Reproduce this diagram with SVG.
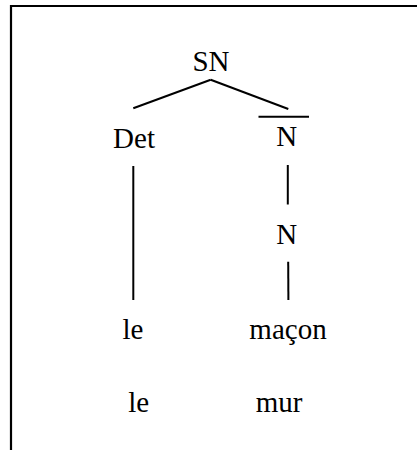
<svg xmlns="http://www.w3.org/2000/svg" width="417" height="450" viewBox="0 0 417 450">
  <style>
    .lbl { font-family: 'Liberation Serif', 'Times New Roman', serif; font-size: 29px; fill: #000; text-anchor: middle; }
    .edge { stroke: #000; stroke-width: 2; fill: none; stroke-linecap: butt; }
    .frame { stroke: #000; stroke-width: 2.2; fill: none; }
  </style>
  <rect width="417" height="450" fill="#fff"/>
  <!-- open frame: top and left rules -->
  <path class="frame" d="M11 450 V6 H417"/>

  <g id="connectors">
    <line class="edge" x1="210.7" y1="79.7" x2="133.3" y2="108.3"/>
    <line class="edge" x1="210.7" y1="79.7" x2="288.3" y2="109"/>
    <line class="edge" x1="133.3" y1="166" x2="133.3" y2="300"/>
    <line class="edge" x1="287.8" y1="165" x2="287.8" y2="204.5"/>
    <line class="edge" x1="288.2" y1="261.7" x2="288.4" y2="300"/>
  </g>

  <g id="node-sn"><text class="lbl" x="211" y="71">SN</text></g>
  <g id="node-det"><text class="lbl" x="134" y="147.7">Det</text></g>
  <g id="node-nbar">
    <!-- bar over N -->
    <line class="edge" x1="258.5" y1="116.7" x2="309" y2="116.7"/>
    <text class="lbl" x="286.7" y="146">N</text>
  </g>
  <g id="node-n"><text class="lbl" x="286.7" y="244.3">N</text></g>
  <g id="node-le"><text class="lbl" x="133" y="338.5">le</text></g>
  <g id="node-macon"><text class="lbl" x="288" y="338.5">maçon</text></g>
  <g id="node-le2"><text class="lbl" x="138.7" y="411.7">le</text></g>
  <g id="node-mur"><text class="lbl" x="279" y="411.7">mur</text></g>
</svg>
